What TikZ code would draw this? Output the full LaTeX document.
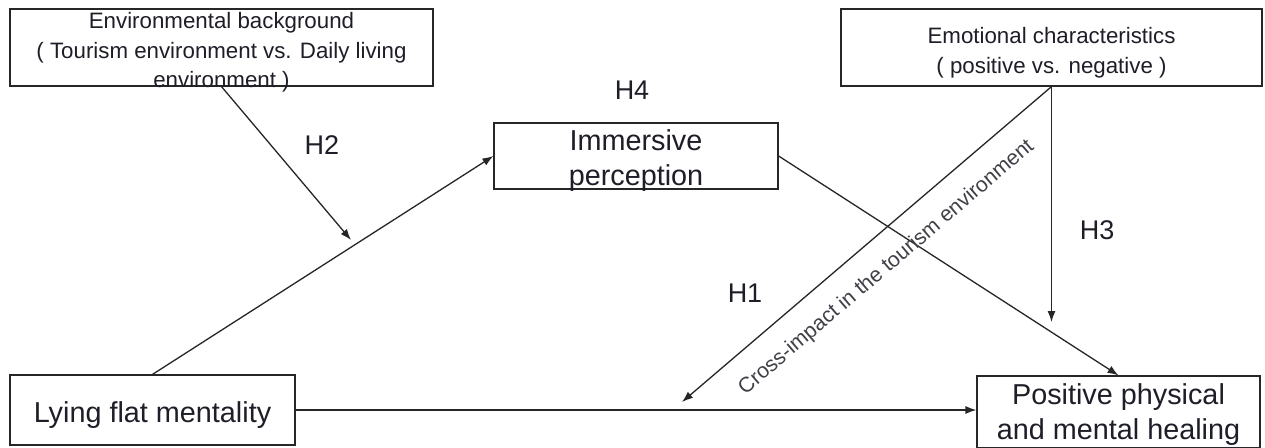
\documentclass[tikz,border=0pt]{standalone}
\usepackage{fontspec}
\setmainfont{Liberation Sans}
\usetikzlibrary{arrows.meta}
\definecolor{txt}{HTML}{1E1E28}
\tikzset{
  box/.style={draw=black!85, line width=1.2pt, inner sep=0pt},
  boxtext/.style={inner sep=0pt, align=center, text=txt},
  smalltext/.style={boxtext, font=\fontsize{22.3}{29.5}\selectfont},
  bigtext/.style={boxtext, font=\fontsize{28.8}{35}\selectfont},
  hyp/.style={font=\fontsize{27}{30}\selectfont, text=txt, inner sep=0pt},
  conn/.style={draw=black!85, line width=1.3pt, -{Latex[length=11pt,width=8pt]}},
  cross/.style={font=\fontsize{21.2}{24}\selectfont, text=txt!85, inner sep=0pt}
}
\begin{document}
\begin{tikzpicture}[x=1pt,y=-1pt]
\useasboundingbox (0,0) rectangle (1265,447);
\clip (0,0) rectangle (1265,447);
\fill[white] (0,0) rectangle (1265,447);

\node[box, minimum width=423pt, minimum height=77pt] (env) at (221.5,47.5) {};
\node[smalltext] (envtxt) at ([yshift=-5pt]env.center)
  {Environmental background\\( Tourism environment vs. Daily living\\environment )};
\node[box, minimum width=421pt, minimum height=77pt] (emo) at (1051.5,47.5) {};
\node[smalltext] (emotxt) at ([yshift=-5pt]emo.center)
  {Emotional characteristics\\( positive vs. negative )};
\node[box, minimum width=284pt, minimum height=66pt] (imm) at (636,156) {};
\node[bigtext] (immtxt) at ([yshift=-5pt]imm.center) {Immersive\\perception};
\node[box, minimum width=285pt, minimum height=70pt] (lying) at (152.5,410) {};
\node[bigtext] (lyingtxt) at ([yshift=-5pt]lying.center) {Lying flat mentality};
\node[box, minimum width=283pt, minimum height=72pt] (pos) at (1118.5,412) {};
\node[bigtext] (postxt) at ([yshift=-2.5pt]pos.center) {Positive physical\\and mental healing};

\coordinate (h2end) at (351,240);
\coordinate (h3end) at (1051.5,322);
\coordinate (h1end) at (682,402);

\draw[conn] (lying.north) -- (imm.west);
\draw[conn] (env.south) -- (h2end);
\draw[conn] (imm.east) -- (pos.north);
\draw[conn] (emo.south) -- (h3end);
\draw[conn] (emo.south) -- node[cross, sloped, pos=0.5, below=20pt] (crosslbl) {Cross-impact in the tourism environment} (h1end);
\draw[conn] (lying.east) -- (lying.east -| pos.west);

\node[hyp] (H1) at (745,293) {H1};
\node[hyp] (H2) at (322,145) {H2};
\node[hyp] (H3) at (1097,230) {H3};
\node[hyp] (H4) at (632,90) {H4};
\end{tikzpicture}
\end{document}
